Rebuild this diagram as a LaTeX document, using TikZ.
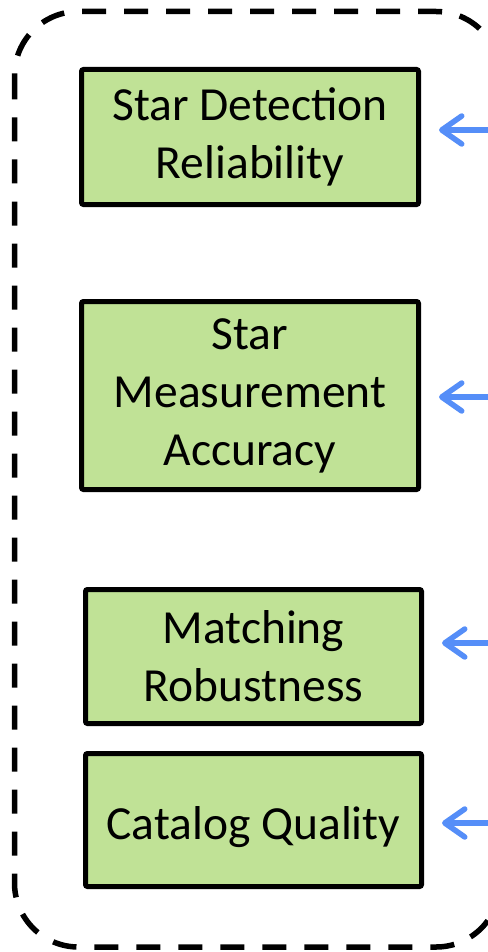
\documentclass[tikz,border=0pt]{standalone}
\usepackage{fontspec}
\setmainfont{Carlito}
\usetikzlibrary{arrows.meta}
\definecolor{boxgreen}{RGB}{192,226,150}
\definecolor{arrowblue}{RGB}{85,142,248}
\begin{document}
\begin{tikzpicture}[x=1pt,y=-1pt,
  box/.style={draw=black, fill=boxgreen, line width=5pt, rounded corners=2pt,
    align=center, inner sep=0pt, font=\fontsize{47.5}{58}\selectfont},
  frame/.style={draw=black, line width=5.5pt, dash pattern=on 24pt off 18pt, rounded corners=64pt},
  inarrow/.style={draw=arrowblue, line width=5.5pt,
    -{Straight Barb[length=20pt,width=28pt,line width=5.5pt,round]}, shorten >=18pt}]
\useasboundingbox (0,0) rectangle (487,952);
\draw[frame] (14.5,11.5) rectangle (500,947);
\node[box, minimum width=337pt, minimum height=135pt] (b1) at (250,137) {Star Detection\\Reliability};
\node[box, minimum width=337pt, minimum height=188pt] (b2) at (250,395.5) {Star\\Measurement\\Accuracy};
\node[box, minimum width=336pt, minimum height=134pt] (b3) at (253.5,656.5) {Matching\\Robustness};
\node[box, minimum width=336pt, minimum height=133pt, text depth=0pt] (b4) at (253.5,820) {\raisebox{-6pt}{Catalog Quality}};
\coordinate (a1) at (495,130);
\coordinate (a2) at (495,397);
\coordinate (a3) at (495,643);
\coordinate (a4) at (495,823);
\draw[inarrow] (a1) -- (a1 -| b1.east);
\draw[inarrow] (a2) -- (a2 -| b2.east);
\draw[inarrow] (a3) -- (a3 -| b3.east);
\draw[inarrow] (a4) -- (a4 -| b4.east);
\end{tikzpicture}
\end{document}
